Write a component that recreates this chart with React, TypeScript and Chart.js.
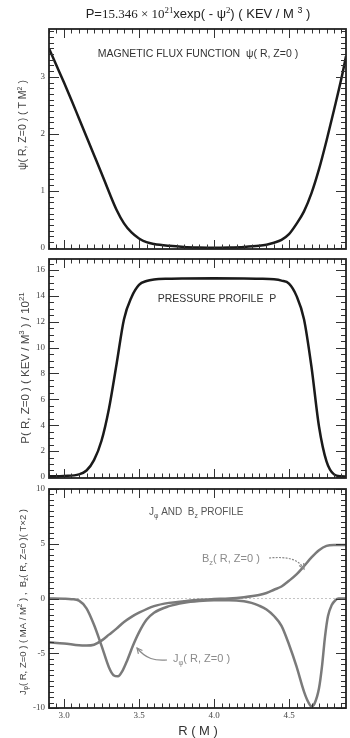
import React, { useEffect, useRef } from "react";
import { Chart, registerables } from "chart.js";

Chart.register(...registerables);

// ---------------- data ----------------
const R_MIN = 2.9;
const R_MAX = 4.88;
const rTicks = [3.0, 3.5, 4.0, 4.5];
const rTickLabels = ["3.0", "3.5", "4.0", "4.5"];

const rPsi = [2.9, 2.95, 3.0, 3.05, 3.1, 3.15, 3.2, 3.25, 3.3, 3.35, 3.4, 3.45, 3.5, 3.55, 3.6, 3.7, 3.8, 3.9, 4.0, 4.1, 4.2, 4.3, 4.35, 4.4, 4.45, 4.5, 4.55, 4.6, 4.65, 4.7, 4.75, 4.8, 4.85, 4.88];
const psiValues = [3.5, 3.2, 2.9, 2.59, 2.27, 1.95, 1.63, 1.31, 0.98, 0.67, 0.43, 0.27, 0.165, 0.1, 0.068, 0.035, 0.015, 0.005, 0.0, 0.005, 0.015, 0.035, 0.055, 0.09, 0.14, 0.24, 0.42, 0.64, 0.96, 1.38, 1.88, 2.42, 2.98, 3.36];

const rPressure = [2.9, 3.0, 3.1, 3.15, 3.2, 3.25, 3.3, 3.35, 3.4, 3.45, 3.5, 3.55, 3.6, 3.7, 3.8, 4.0, 4.2, 4.3, 4.4, 4.45, 4.5, 4.55, 4.6, 4.65, 4.7, 4.75, 4.8, 4.85, 4.88];
const pressureValues = [0.05, 0.08, 0.2, 0.5, 1.3, 2.8, 5.3, 8.7, 12.2, 13.9, 14.85, 15.15, 15.27, 15.33, 15.35, 15.36, 15.35, 15.33, 15.28, 15.18, 14.95, 14.0, 12.2, 8.5, 3.9, 1.2, 0.2, 0.05, 0.03];

const rJphi = [2.9, 3.0, 3.05, 3.1, 3.15, 3.2, 3.25, 3.3, 3.33, 3.36, 3.39, 3.42, 3.46, 3.5, 3.55, 3.6, 3.7, 3.8, 3.9, 4.0, 4.1, 4.2, 4.25, 4.3, 4.35, 4.4, 4.45, 4.5, 4.55, 4.6, 4.63, 4.65, 4.67, 4.7, 4.72, 4.74, 4.76, 4.785, 4.81, 4.83, 4.88];
const jphiValues = [0, -0.02, -0.06, -0.2, -0.9, -2.4, -4.3, -6.3, -7.0, -7.1, -6.6, -5.7, -4.3, -3.1, -1.95, -1.3, -0.7, -0.38, -0.22, -0.15, -0.15, -0.25, -0.4, -0.65, -1.0, -1.6, -2.5, -4.2, -6.2, -8.5, -9.5, -9.85, -9.6, -8.2, -6.2, -3.5, -1.6, -0.6, -0.15, 0, 0];

const rBz = [2.9, 3.0, 3.1, 3.15, 3.2, 3.25, 3.3, 3.35, 3.4, 3.45, 3.5, 3.6, 3.7, 3.8, 3.9, 4.0, 4.1, 4.2, 4.3, 4.35, 4.4, 4.45, 4.5, 4.55, 4.6, 4.65, 4.7, 4.75, 4.8, 4.88];
const bzValues = [-4.0, -4.1, -4.28, -4.3, -4.22, -3.85, -3.3, -2.75, -2.15, -1.68, -1.3, -0.7, -0.4, -0.25, -0.12, -0.05, 0.0, 0.12, 0.32, 0.5, 0.8, 1.1, 1.62, 2.2, 2.95, 3.75, 4.4, 4.8, 4.88, 4.88];

const psiTicks = [0, 1, 2, 3];
const psiTickLabels = ["0", "1", "2", "3"];
const pressureTicks = [0, 2, 4, 6, 8, 10, 12, 14, 16];
const pressureTickLabels = ["0", "2", "4", "6", "8", "10", "12", "14", "16"];
const currentTicks = [-10, -5, 0, 5, 10];
const currentTickLabels = ["-10", "-5", "0", "5", "10"];

// ---------------- text helpers ----------------
type Seg = { t: string; serif?: boolean; sub?: boolean; sup?: boolean };
const SANS = '"Liberation Sans", Arial, Helvetica, sans-serif';
const SERIF = '"Liberation Serif", "Times New Roman", serif';

function segFont(s: Seg, size: number) {
  const sz = s.sub || s.sup ? size * 0.68 : size;
  return `${sz}px ${s.serif ? SERIF : SANS}`;
}

function richWidth(ctx: CanvasRenderingContext2D, segs: Seg[], size: number) {
  let w = 0;
  for (const s of segs) {
    ctx.font = segFont(s, size);
    w += ctx.measureText(s.t).width;
  }
  return w;
}

function drawRich(
  ctx: CanvasRenderingContext2D,
  segs: Seg[],
  x: number,
  y: number,
  size: number,
  align: "left" | "center" | "right",
  color: string
) {
  const w = richWidth(ctx, segs, size);
  let cx = align === "center" ? x - w / 2 : align === "right" ? x - w : x;
  ctx.textAlign = "left";
  ctx.textBaseline = "alphabetic";
  ctx.fillStyle = color;
  for (const s of segs) {
    ctx.font = segFont(s, size);
    const dy = s.sup ? -size * 0.4 : s.sub ? size * 0.25 : 0;
    ctx.fillText(s.t, cx, y + dy);
    cx += ctx.measureText(s.t).width;
  }
}

function drawArrow(
  ctx: CanvasRenderingContext2D,
  p0: number[],
  c1: number[],
  c2: number[],
  p1: number[],
  color: string,
  dashed: boolean
) {
  ctx.save();
  ctx.strokeStyle = color;
  ctx.lineWidth = 1.2;
  ctx.setLineDash(dashed ? [2, 1.3] : []);
  ctx.beginPath();
  ctx.moveTo(p0[0], p0[1]);
  ctx.bezierCurveTo(c1[0], c1[1], c2[0], c2[1], p1[0], p1[1]);
  ctx.stroke();
  ctx.setLineDash([]);
  const ang = Math.atan2(p1[1] - c2[1], p1[0] - c2[0]);
  const L = 6;
  ctx.beginPath();
  ctx.moveTo(p1[0] - L * Math.cos(ang - 0.45), p1[1] - L * Math.sin(ang - 0.45));
  ctx.lineTo(p1[0], p1[1]);
  ctx.lineTo(p1[0] - L * Math.cos(ang + 0.45), p1[1] - L * Math.sin(ang + 0.45));
  ctx.stroke();
  ctx.restore();
}

// ---------------- panel specs ----------------
type PanelSpec = {
  key: string;
  top: number;
  height: number;
  padTop: number;
  padBottom: number;
  yMin: number;
  yMax: number;
  yTicks: number[];
  yTickLabels: string[];
  yMinorStep: number;
  yTitle: Seg[];
  yTitleX: number;
  yTitleY: number;
  yTitleSize: number;
  datasets: any[];
  extra: (ctx: CanvasRenderingContext2D, chart: any) => void;
};

const toPts = (xs: number[], ys: number[]) => xs.map((x, i) => ({ x, y: ys[i] }));

function decorate(chart: any, spec: PanelSpec) {
  const ctx = chart.ctx as CanvasRenderingContext2D;
  const { left, right, top, bottom } = chart.chartArea;
  const xs = chart.scales.x;
  const ys = chart.scales.y;
  ctx.save();

  // inward ticks
  ctx.strokeStyle = "#333";
  ctx.lineWidth = 1;
  ctx.beginPath();
  for (let i = 0; ; i++) {
    const v = R_MIN + i * 0.05;
    if (v > R_MAX + 1e-9) break;
    const major = rTicks.some((t) => Math.abs(t - v) < 1e-6);
    const px = Math.round(xs.getPixelForValue(v)) + 0.5;
    const len = major ? 9 : 4.5;
    ctx.moveTo(px, bottom);
    ctx.lineTo(px, bottom - len);
    ctx.moveTo(px, top);
    ctx.lineTo(px, top + len);
  }
  const start = Math.ceil(spec.yMin / spec.yMinorStep - 1e-9);
  for (let k = start; ; k++) {
    const v = k * spec.yMinorStep;
    if (v > spec.yMax + 1e-9) break;
    const major = spec.yTicks.some((t) => Math.abs(t - v) < 1e-6);
    const py = Math.round(ys.getPixelForValue(v)) + 0.5;
    const len = major ? 10 : 5;
    ctx.moveTo(left, py);
    ctx.lineTo(left + len, py);
    ctx.moveTo(right, py);
    ctx.lineTo(right - len, py);
  }
  ctx.stroke();

  // frame
  ctx.strokeStyle = "#222";
  ctx.lineWidth = 1.8;
  ctx.strokeRect(left, top, right - left, bottom - top);

  // y tick labels
  ctx.fillStyle = "#444";
  ctx.font = `9px ${SERIF}`;
  ctx.textAlign = "right";
  ctx.textBaseline = "middle";
  spec.yTicks.forEach((v, i) => {
    ctx.fillText(spec.yTickLabels[i], left - 4, ys.getPixelForValue(v));
  });

  // y title
  ctx.save();
  ctx.translate(spec.yTitleX, spec.yTitleY);
  ctx.rotate(-Math.PI / 2);
  drawRich(ctx, spec.yTitle, 0, 0, spec.yTitleSize, "center", "#444");
  ctx.restore();

  spec.extra(ctx, chart);
  ctx.restore();
}

const panels: PanelSpec[] = [
  {
    key: "psi",
    top: 0,
    height: 254,
    padTop: 29,
    padBottom: 5,
    yMin: -0.02,
    yMax: 3.84,
    yTicks: psiTicks,
    yTickLabels: psiTickLabels,
    yMinorStep: 0.1,
    yTitle: [{ t: "ψ( R, Z=0 ) ( T M" }, { t: "2", sup: true }, { t: " )" }],
    yTitleX: 26,
    yTitleY: 125,
    yTitleSize: 10.5,
    datasets: [
      {
        data: toPts(rPsi, psiValues),
        borderColor: "#1a1a1a",
        borderWidth: 2.5,
        pointRadius: 0,
        cubicInterpolationMode: "monotone",
        fill: false,
      },
    ],
    extra: (ctx) => {
      drawRich(
        ctx,
        [
          { t: "P=" },
          { t: "15.346 × 10", serif: true },
          { t: "21", serif: true, sup: true },
          { t: "xexp( - ψ" },
          { t: "2", serif: true, sup: true },
          { t: ") ( KEV / M " },
          { t: "3", sup: true },
          { t: " )" },
        ],
        198,
        18,
        13,
        "center",
        "#222"
      );
      drawRich(ctx, [{ t: "MAGNETIC FLUX FUNCTION  ψ( R, Z=0 )" }], 198, 57, 10.5, "center", "#333");
    },
  },
  {
    key: "pressure",
    top: 254,
    height: 230,
    padTop: 5,
    padBottom: 6,
    yMin: -0.08,
    yMax: 16.85,
    yTicks: pressureTicks,
    yTickLabels: pressureTickLabels,
    yMinorStep: 0.5,
    yTitle: [
      { t: "P( R, Z=0 ) ( KEV / M" },
      { t: "3", sup: true },
      { t: " ) / 10" },
      { t: "21", sup: true },
    ],
    yTitleX: 29,
    yTitleY: 114,
    yTitleSize: 11.5,
    datasets: [
      {
        data: toPts(rPressure, pressureValues),
        borderColor: "#1a1a1a",
        borderWidth: 2.5,
        pointRadius: 0,
        cubicInterpolationMode: "monotone",
        fill: false,
      },
    ],
    extra: (ctx) => {
      drawRich(ctx, [{ t: "PRESSURE PROFILE  P" }], 217, 47.5, 10.5, "center", "#333");
    },
  },
  {
    key: "current",
    top: 484,
    height: 254,
    padTop: 5,
    padBottom: 30,
    yMin: -10,
    yMax: 10,
    yTicks: currentTicks,
    yTickLabels: currentTickLabels,
    yMinorStep: 0.5,
    yTitle: [
      { t: "J" },
      { t: "φ", sub: true },
      { t: "( R, Z=0 ) ( MA / M" },
      { t: "2", sup: true },
      { t: " ) ,  B" },
      { t: "z", sub: true },
      { t: "( R, Z=0 )( T×2 )" },
    ],
    yTitleX: 26,
    yTitleY: 118,
    yTitleSize: 9.5,
    datasets: [
      {
        data: toPts(rJphi, jphiValues),
        borderColor: "#7a7a7a",
        borderWidth: 2.5,
        pointRadius: 0,
        cubicInterpolationMode: "monotone",
        fill: false,
      },
      {
        data: toPts(rBz, bzValues),
        borderColor: "#7a7a7a",
        borderWidth: 2.5,
        pointRadius: 0,
        cubicInterpolationMode: "monotone",
        fill: false,
      },
      {
        data: [
          { x: R_MIN, y: 0 },
          { x: R_MAX, y: 0 },
        ],
        borderColor: "#b5b5b5",
        borderWidth: 0.8,
        borderDash: [2, 2],
        pointRadius: 0,
        fill: false,
      },
    ],
    extra: (ctx, chart) => {
      const xs = chart.scales.x;
      drawRich(
        ctx,
        [{ t: "J" }, { t: "φ", sub: true }, { t: " AND  B" }, { t: "z", sub: true }, { t: " PROFILE" }],
        149,
        31,
        10,
        "left",
        "#555"
      );
      drawRich(ctx, [{ t: "B" }, { t: "z", sub: true }, { t: "( R, Z=0 )" }], 202, 78, 11, "left", "#8a8a8a");
      drawRich(ctx, [{ t: "J" }, { t: "φ", sub: true }, { t: "( R, Z=0 )" }], 173, 178, 11, "left", "#8a8a8a");
      drawArrow(ctx, [269, 74], [285, 72.5], [298, 74], [304, 85], "#8a8a8a", true);
      drawArrow(ctx, [167, 176], [155, 177], [146, 175], [137, 164], "#8a8a8a", false);

      // x tick labels
      ctx.fillStyle = "#444";
      ctx.font = `9px ${SERIF}`;
      ctx.textAlign = "center";
      ctx.textBaseline = "alphabetic";
      rTicks.forEach((v, i) => {
        ctx.fillText(rTickLabels[i], xs.getPixelForValue(v), 234);
      });
      drawRich(ctx, [{ t: "R ( M )" }], 198, 251, 13, "center", "#333");
    },
  },
];

// ---------------- components ----------------
function PanelChart({ spec }: { spec: PanelSpec }) {
  const ref = useRef<HTMLCanvasElement | null>(null);
  useEffect(() => {
    const canvas = ref.current;
    if (!canvas) return;
    const chart = new Chart(canvas, {
      type: "line",
      data: { datasets: spec.datasets },
      options: {
        responsive: false,
        animation: false,
        devicePixelRatio: 1,
        layout: { padding: { left: 49, right: 4, top: spec.padTop, bottom: spec.padBottom } },
        scales: {
          x: { type: "linear", min: R_MIN, max: R_MAX, display: false },
          y: { type: "linear", min: spec.yMin, max: spec.yMax, display: false },
        },
        plugins: { legend: { display: false }, tooltip: { enabled: false } },
      },
      plugins: [{ id: "decor-" + spec.key, afterDraw: (c: any) => decorate(c, spec) }],
    } as any);
    return () => chart.destroy();
  }, [spec]);
  return (
    <canvas
      ref={ref}
      width={350}
      height={spec.height}
      style={{ position: "absolute", left: 0, top: spec.top, width: 350, height: spec.height }}
    />
  );
}

export default function App() {
  return (
    <div
      style={{
        position: "absolute",
        left: 0,
        top: 0,
        width: 350,
        height: 738,
        background: "#ffffff",
        overflow: "hidden",
      }}
    >
      {panels.map((p) => (
        <PanelChart key={p.key} spec={p} />
      ))}
    </div>
  );
}
